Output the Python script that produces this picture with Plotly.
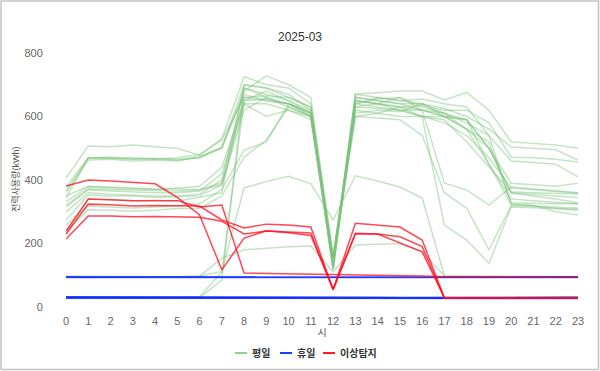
import plotly.graph_objects as go

hours = list(range(24))

# 평일 (weekday) series
weekday_series = [
    [406,507,505,510,505,500,478,530,725,700,690,640,130,670,675,680,680,652,676,620,520,515,510,500],
    [378,469,470,465,468,462,470,505,680,728,700,660,150,660,650,640,640,625,600,560,504,500,495,463],
    [359,463,465,460,462,460,475,500,700,690,670,620,140,650,640,630,635,620,620,580,472,470,465,457],
    [343,470,468,466,465,470,480,526,660,665,660,630,160,640,660,650,655,640,630,540,460,455,450,410],
    [331,378,375,372,370,375,380,440,650,680,650,610,120,670,660,650,640,610,560,500,390,385,380,390],
    [315,369,365,362,360,360,365,420,640,640,620,600,115,650,640,620,600,580,540,470,375,370,365,359],
    [299,360,355,352,350,350,355,400,690,660,640,615,135,620,610,600,600,590,520,440,363,360,358,356],
    [274,353,350,350,345,348,350,384,620,660,630,600,125,630,625,620,620,600,590,500,359,350,340,328],
    [258,318,315,312,315,318,325,370,494,520,640,610,145,600,610,630,600,600,560,520,328,326,325,325],
    [240,306,305,302,305,310,310,350,472,526,630,600,155,640,655,660,630,610,580,540,325,320,310,305],
    [230,340,338,335,336,335,345,360,700,690,660,630,165,610,620,615,640,600,590,450,322,320,300,290],
    [30,30,29,29,29,28,30,85,690,670,650,620,140,660,650,640,620,600,560,450,340,335,330,325],
    [32,31,30,30,30,29,32,110,650,655,640,610,120,650,640,630,620,610,590,500,360,355,350,345],
    [97,96,96,95,95,95,97,154,180,185,190,192,110,195,198,200,174,98,97,97,96,96,96,95],
    [95,95,95,95,95,95,98,112,375,395,412,388,274,413,397,378,343,98,97,96,96,96,95,95],
    [365,470,472,470,468,465,470,500,670,650,640,600,130,630,640,660,620,390,369,321,378,372,368,360],
    [350,380,378,375,372,372,370,390,660,650,640,605,135,640,630,620,600,258,211,138,315,312,310,308],
    [320,372,370,368,366,365,368,385,640,600,620,590,150,600,595,590,540,360,311,180,320,318,315,312],
]

# 휴일 (holiday) series
holiday_series = [
    [94,94,94,94,94,94,93,93,93,93,93,93,93,93,93,93,93,93,94,94,94,95,95,95],
    [95,95,95,95,96,96,95,95,95,95,94,94,94,94,94,94,94,94,94,94,94,94,94,94],
    [93,93,93,93,93,93,93,93,92,92,92,92,92,92,92,92,92,92,92,93,93,93,93,93],
    [30,30,30,30,30,30,29,29,29,29,29,28,28,28,28,28,28,28,28,29,29,29,29,29],
    [29,29,29,29,29,29,28,28,28,28,28,28,27,27,27,27,27,27,27,28,28,28,28,28],
    [31,31,30,30,30,30,30,30,30,29,29,29,29,29,29,28,28,28,28,28,29,29,30,30],
    [28,28,28,28,28,28,27,27,27,27,27,27,27,27,27,27,27,27,27,27,27,27,27,27],
    [32,32,31,31,31,31,31,31,31,30,30,30,30,30,30,29,29,29,29,30,30,30,31,31],
    [29,29,29,29,28,28,28,28,28,28,28,28,28,28,28,28,28,28,28,28,28,28,28,28],
    [30,30,30,29,29,29,29,29,29,29,29,29,29,29,29,29,29,29,29,29,29,30,30,30],
]

# 이상탐지 (anomaly) series
anomaly_series = [
    [381,400,397,392,388,345,290,117,217,240,234,225,55,232,230,221,190,28,28,28,28,28,28,28],
    [239,340,338,335,335,335,315,321,107,106,105,103,101,102,101,100,98,95,95,95,95,95,95,95],
    [230,324,322,318,320,320,318,274,249,261,258,252,55,264,258,252,211,28,28,28,29,29,29,29],
    [214,287,287,284,285,285,283,270,230,239,237,233,55,230,230,201,174,28,28,28,28,28,28,28],
]

y_ticks = [0, 200, 400, 600, 800]
title_text = "2025-03"
legend_names = ["평일", "휴일", "이상탐지"]

GREEN = "rgba(125,195,125,0.45)"
BLUE = "rgba(20,50,255,0.75)"
RED = "rgba(255,10,30,0.75)"
LEGEND_COLORS = ["#8fd08f", "#1a3cff", "#ff1a2a"]

fig = go.Figure()

for s in weekday_series:
    fig.add_trace(go.Scatter(x=hours, y=s, mode="lines", name=legend_names[0],
                             showlegend=False, line=dict(color=GREEN, width=1.5)))
for s in holiday_series:
    fig.add_trace(go.Scatter(x=hours, y=s, mode="lines", name=legend_names[1],
                             showlegend=False, line=dict(color=BLUE, width=1.5)))
for s in anomaly_series:
    fig.add_trace(go.Scatter(x=hours, y=s, mode="lines", name=legend_names[2],
                             showlegend=False, line=dict(color=RED, width=1.5)))

W, H = 600, 371
L, R, T, B = 66, 22, 53, 64
pw, ph = W - L - R, H - T - B

def px_to_paper_x(px):
    return (px - L) / pw

def px_to_paper_y(py):
    return (H - B - py) / ph

FONT = "Liberation Sans, Noto Sans CJK KR, sans-serif"

# custom legend (short line swatches + bold text), positioned in pixels
legend_y = 353
legend_items = [(235, legend_names[0], LEGEND_COLORS[0]),
                (280, legend_names[1], LEGEND_COLORS[1]),
                (323, legend_names[2], LEGEND_COLORS[2])]

shapes = [dict(type="rect", xref="paper", yref="paper", layer="below",
               x0=px_to_paper_x(1), x1=px_to_paper_x(598.5),
               y0=px_to_paper_y(369.5), y1=px_to_paper_y(1),
               line=dict(color="#c4c4c4", width=1.5))]
annotations = [dict(text="전력사용량(kWh)", textangle=-90, xref="paper", yref="paper",
                    x=px_to_paper_x(15), y=px_to_paper_y(180), showarrow=False,
                    xanchor="center", yanchor="middle",
                    font=dict(size=9, color="#555"))]
for x0, name, col in legend_items:
    shapes.append(dict(type="line", xref="paper", yref="paper",
                       x0=px_to_paper_x(x0), x1=px_to_paper_x(x0 + 12),
                       y0=px_to_paper_y(legend_y), y1=px_to_paper_y(legend_y),
                       line=dict(color=col, width=2)))
    annotations.append(dict(text=name, xref="paper", yref="paper",
                            x=px_to_paper_x(x0 + 15), y=px_to_paper_y(legend_y),
                            xanchor="left", yanchor="middle", showarrow=False,
                            font=dict(size=10, color="#333", weight="bold")))

fig.update_layout(
    width=W, height=H, autosize=False,
    margin=dict(l=L, r=R, t=T, b=B, autoexpand=False),
    paper_bgcolor="white", plot_bgcolor="white",
    font=dict(family=FONT, color="#555"),
    title=dict(text=title_text, x=0.5, xanchor="center", y=1 - 37 / H, yanchor="middle",
               yref="container", font=dict(size=12, color="#333")),
    xaxis=dict(range=[0, 23], tickmode="array", tickvals=hours, ticktext=[str(h) for h in hours],
               showgrid=False, zeroline=False, showline=False, automargin=False,
               tickfont=dict(size=11, color="#666"),
               ticks="outside", ticklen=4, tickcolor="rgba(0,0,0,0)",
               title=dict(text="시", font=dict(size=10, color="#555"), standoff=2)),
    yaxis=dict(range=[0, 800], tickmode="array", tickvals=y_ticks,
               showgrid=False, zeroline=False, showline=False, automargin=False,
               tickfont=dict(size=11, color="#666"),
               ticks="outside", ticklen=20, tickcolor="rgba(0,0,0,0)"),
    showlegend=False,
    annotations=annotations,
    shapes=shapes,
)

fig.write_html("out.html",
               config={"displayModeBar": False, "responsive": False},
               post_script="document.body.style.margin='0';document.body.style.overflow='hidden';")
